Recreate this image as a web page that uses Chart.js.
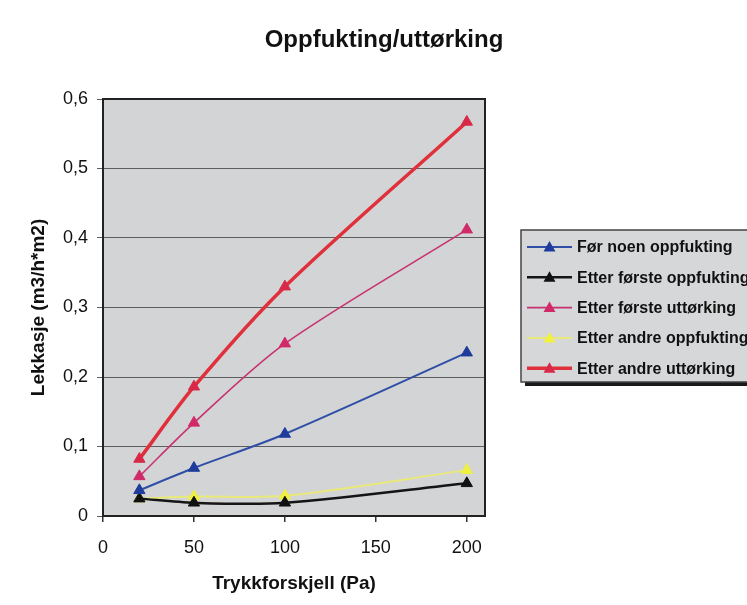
<!DOCTYPE html>
<html>
<head>
<meta charset="utf-8">
<script src="https://cdn.jsdelivr.net/npm/chart.js@4.4.1/dist/chart.umd.min.js"></script>
<style>
  html, body { margin: 0; padding: 0; background: #fff; }
  #wrap { width: 747px; height: 605px; }
</style>
</head>
<body>
<div id="wrap"><canvas id="chart" width="747" height="605"></canvas></div>
<script>
// trykkforskjell (Pa) og lekkasje per serie
const pressure = [20, 50, 100, 200];
const forNoen = [0.037, 0.069, 0.118, 0.235];
const etterForsteOppf = [0.025, 0.019, 0.019, 0.047];
const etterForsteUtt = [0.057, 0.134, 0.248, 0.412];
const etterAndreOppf = [0.025, 0.028, 0.029, 0.066];
const etterAndreUtt = [0.082, 0.186, 0.330, 0.567];
const seriesNames = [
  'Før noen oppfukting',
  'Etter første oppfukting',
  'Etter første uttørking',
  'Etter andre oppfukting',
  'Etter andre uttørking'
];
const xTicks = [0, 50, 100, 150, 200];
const yTicks = [0, 0.1, 0.2, 0.3, 0.4, 0.5, 0.6];

const FONT = '"Liberation Sans", Arial, sans-serif';

function pts(vals) {
  return vals.map((v, i) => ({ x: pressure[i], y: v }));
}

function ds(label, vals, color, width, markColor) {
  return {
    label: label,
    data: pts(vals),
    borderColor: color,
    borderWidth: width,
    backgroundColor: markColor || color,
    pointBackgroundColor: markColor || color,
    pointBorderColor: markColor || color,
    pointStyle: 'triangle',
    pointRadius: 6.5,
    pointBorderWidth: 1,
    tension: 0.3,
    fill: false
  };
}

// bakgrunn og ramme rundt plottet
const plotFrame = {
  id: 'plotFrame',
  beforeDraw(chart) {
    const { ctx, chartArea: a } = chart;
    ctx.save();
    ctx.fillStyle = '#d3d4d6';
    ctx.fillRect(a.left, a.top, a.right - a.left, a.bottom - a.top);
    ctx.restore();
  },
  afterDatasetsDraw(chart) {
    const { ctx, chartArea: a } = chart;
    ctx.save();
    ctx.strokeStyle = '#222';
    ctx.lineWidth = 2;
    ctx.strokeRect(a.left, a.top, a.right - a.left, a.bottom - a.top);
    ctx.restore();
  },
  afterDraw(chart) {
    const ctx = chart.ctx;
    ctx.save();
    // tittel
    ctx.fillStyle = '#111';
    ctx.font = 'bold 24px ' + FONT;
    ctx.textAlign = 'center';
    ctx.textBaseline = 'middle';
    ctx.fillText('Oppfukting/uttørking', 384, 40);

    // legende
    const bx = 521, by = 230, bw = 240, bh = 152;
    ctx.fillStyle = '#1a1a1a';
    ctx.fillRect(bx + 4, by + 4, bw, bh);
    ctx.fillStyle = '#d6d7d9';
    ctx.fillRect(bx, by, bw, bh);
    ctx.strokeStyle = '#444';
    ctx.lineWidth = 1.5;
    ctx.strokeRect(bx, by, bw, bh);

    ctx.font = 'bold 16px ' + FONT;
    ctx.textAlign = 'left';
    chart.data.datasets.forEach((d, i) => {
      const y = 247 + i * 30.3;
      ctx.strokeStyle = d.borderColor;
      ctx.lineWidth = d.borderWidth;
      ctx.beginPath();
      ctx.moveTo(527, y);
      ctx.lineTo(572, y);
      ctx.stroke();
      // trekant
      ctx.fillStyle = d.pointBackgroundColor;
      ctx.beginPath();
      ctx.moveTo(549.5, y - 6);
      ctx.lineTo(555.5, y + 4.5);
      ctx.lineTo(543.5, y + 4.5);
      ctx.closePath();
      ctx.fill();
      ctx.fillStyle = '#111';
      ctx.fillText(d.label, 577, y + 1);
    });
    ctx.restore();
  }
};

const ctx = document.getElementById('chart').getContext('2d');
new Chart(ctx, {
  type: 'line',
  data: {
    datasets: [
      ds(seriesNames[0], forNoen, '#2f4fa6', 2, '#1f3c9c'),
      ds(seriesNames[1], etterForsteOppf, '#151515', 2.5, '#111'),
      ds(seriesNames[2], etterForsteUtt, '#c83270', 1.6, '#d02a68'),
      ds(seriesNames[3], etterAndreOppf, '#e9e97a', 2, '#f0f040'),
      ds(seriesNames[4], etterAndreUtt, '#e0303c', 3.5, '#d82a48')
    ]
  },
  options: {
    responsive: false,
    animation: false,
    layout: { padding: { top: 99, right: 262, left: 0, bottom: 0 } },
    plugins: {
      legend: { display: false },
      title: { display: false },
      tooltip: { enabled: false }
    },
    scales: {
      x: {
        type: 'linear',
        min: 0,
        max: 210,
        afterBuildTicks(scale) { scale.ticks = xTicks.map(v => ({ value: v })); },
        afterFit(scale) { scale.height = 89; },
        grid: { drawOnChartArea: false, drawTicks: true, tickLength: 6, color: '#333', lineWidth: 1.5 },
        border: { display: false },
        ticks: { color: '#111', font: { family: FONT, size: 18 }, padding: 15, maxRotation: 0 },
        title: {
          display: true,
          text: 'Trykkforskjell (Pa)',
          color: '#111',
          font: { family: FONT, size: 19, weight: 'bold' },
          padding: { top: 0, bottom: 10 }
        }
      },
      y: {
        type: 'linear',
        min: 0,
        max: 0.6,
        afterBuildTicks(scale) { scale.ticks = yTicks.map(v => ({ value: v })); },
        afterFit(scale) { scale.width = 103; },
        grid: { drawTicks: true, tickLength: 6, color: '#5e5e5e', lineWidth: 1 },
        border: { display: false },
        ticks: {
          color: '#111',
          font: { family: FONT, size: 18 },
          padding: 9,
          callback: v => v === 0 ? '0' : v.toFixed(1).replace('.', ',')
        },
        title: {
          display: true,
          text: 'Lekkasje (m3/h*m2)',
          color: '#111',
          font: { family: FONT, size: 19, weight: 'bold' },
          padding: { top: 27, bottom: 0 }
        }
      }
    }
  },
  plugins: [plotFrame]
});
</script>
</body>
</html>
